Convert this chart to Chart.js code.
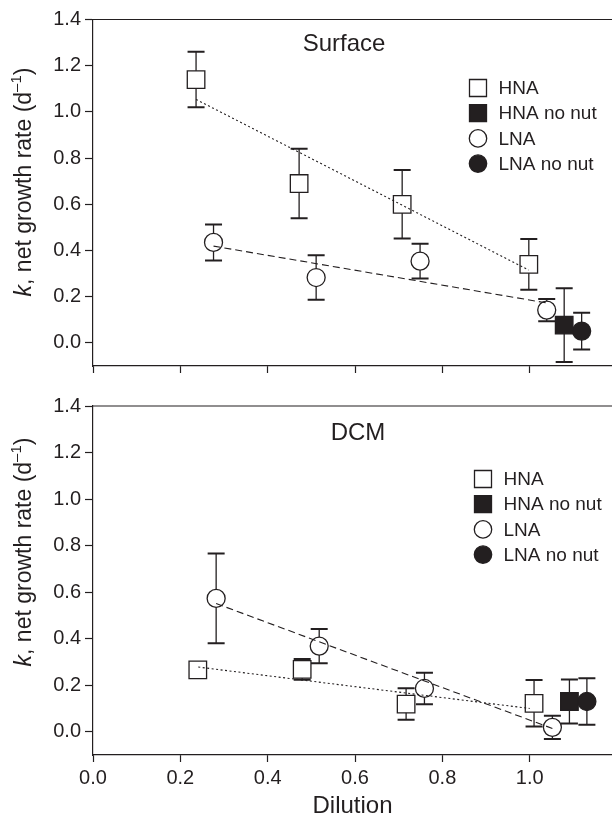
<!DOCTYPE html>
<html>
<head>
<meta charset="utf-8">
<script src="https://cdn.jsdelivr.net/npm/chart.js@4.4.0/dist/chart.umd.min.js"></script>
<style>
html, body { margin: 0; padding: 0; background: #fff; }
#wrap { position: relative; width: 612px; height: 818px; overflow: hidden; }
.panel { position: absolute; left: 0; width: 612px; }
#top-panel { top: 0; height: 386px; }
#bottom-panel { top: 390px; height: 428px; }
</style>
</head>
<body>
<div id="wrap">
  <div class="panel" id="top-panel"><canvas id="surface-chart" width="612" height="386"></canvas></div>
  <div class="panel" id="bottom-panel"><canvas id="dcm-chart" width="612" height="428"></canvas></div>
</div>
<script>
/**
 * Net growth rate vs dilution - Surface and DCM panels
 */

// axis ticks
var xTicks = [0.0, 0.2, 0.4, 0.6, 0.8, 1.0];
var yTicks = [0.0, 0.2, 0.4, 0.6, 0.8, 1.0, 1.2, 1.4];

// Surface
var surfHnaX = [0.236, 0.472, 0.708, 0.998];
var surfHnaY = [1.14, 0.69, 0.60, 0.34];
var surfHnaErr = [0.12, 0.15, 0.148, 0.11];
var surfHnaNoNutX = [1.079];
var surfHnaNoNutY = [0.077];
var surfHnaNoNutErr = [0.16];
var surfLnaX = [0.276, 0.511, 0.749, 1.039];
var surfLnaY = [0.435, 0.283, 0.354, 0.142];
var surfLnaErr = [0.078, 0.096, 0.075, 0.048];
var surfLnaNoNutX = [1.119];
var surfLnaNoNutY = [0.051];
var surfLnaNoNutErr = [0.08];
var surfHnaFitX = [0.236, 0.998];
var surfHnaFitY = [1.054, 0.315];
var surfLnaFitX = [0.276, 1.039];
var surfLnaFitY = [0.419, 0.173];

// DCM
var dcmHnaX = [0.240, 0.479, 0.717, 1.010];
var dcmHnaY = [0.266, 0.268, 0.119, 0.122];
var dcmHnaErr = [0.02, 0.045, 0.068, 0.10];
var dcmHnaNoNutX = [1.091];
var dcmHnaNoNutY = [0.13];
var dcmHnaNoNutErr = [0.095];
var dcmLnaX = [0.282, 0.518, 0.759, 1.052];
var dcmLnaY = [0.573, 0.368, 0.186, 0.019];
var dcmLnaErr = [0.193, 0.074, 0.068, 0.05];
var dcmLnaNoNutX = [1.131];
var dcmLnaNoNutY = [0.13];
var dcmLnaNoNutErr = [0.1];
var dcmHnaFitX = [0.241, 1.0];
var dcmHnaFitY = [0.278, 0.10];
var dcmLnaFitX = [0.282, 1.052];
var dcmLnaFitY = [0.551, 0.014];

var legendLabels = ['HNA', 'HNA no nut', 'LNA', 'LNA no nut'];

var INK = '#231f20';
var FONT = '"Liberation Sans", Arial, Helvetica, sans-serif';
var X_MAX = 1.1885;
var CAP = 8.5;

function pts(xs, ys) {
    return xs.map(function(x, i) { return { x: x, y: ys[i] }; });
}

function markerSet(label, xs, ys, errs, style, filled) {
    return {
        label: label,
        type: 'scatter',
        data: pts(xs, ys),
        errors: errs,
        pointStyle: style,
        pointRadius: style === 'rect' ? 12.4 : 9,
        pointBorderWidth: 1.3,
        pointBorderColor: INK,
        pointBackgroundColor: filled ? INK : '#ffffff',
        showLine: false,
        order: 2
    };
}

function fitSet(xs, ys, dash) {
    return {
        type: 'line',
        data: pts(xs, ys),
        borderColor: INK,
        borderWidth: 1.1,
        borderDash: dash,
        pointRadius: 0,
        fill: false,
        order: 0
    };
}

var errorBarPlugin = {
    id: 'errorBars',
    beforeDatasetsDraw: function(chart) {
        var ctx = chart.ctx, xs = chart.scales.x, ys = chart.scales.y;
        ctx.save();
        ctx.strokeStyle = INK;
        chart.data.datasets.forEach(function(ds) {
            if (!ds.errors) return;
            ds.data.forEach(function(p, i) {
                var e = ds.errors[i];
                if (!e) return;
                var px = xs.getPixelForValue(p.x);
                var top = ys.getPixelForValue(p.y + e);
                var bot = ys.getPixelForValue(p.y - e);
                ctx.lineWidth = 1.3;
                ctx.beginPath();
                ctx.moveTo(px, top); ctx.lineTo(px, bot);
                ctx.stroke();
                ctx.lineWidth = 2;
                ctx.beginPath();
                ctx.moveTo(px - CAP, top); ctx.lineTo(px + CAP, top);
                ctx.moveTo(px - CAP, bot); ctx.lineTo(px + CAP, bot);
                ctx.stroke();
            });
        });
        ctx.restore();
    }
};

// frame top line, panel name, y title and legend
var decorPlugin = {
    id: 'decor',
    afterDraw: function(chart) {
        var o = chart.options.plugins.decor;
        var ctx = chart.ctx, area = chart.chartArea;
        ctx.save();

        ctx.strokeStyle = INK;
        ctx.lineWidth = 1.2;
        ctx.beginPath();
        ctx.moveTo(area.left, area.top);
        ctx.lineTo(chart.width, area.top);
        ctx.stroke();

        ctx.fillStyle = INK;
        ctx.textBaseline = 'middle';
        ctx.textAlign = 'center';
        ctx.font = '24px ' + FONT;
        ctx.fillText(o.title, o.titleX, o.titleY);

        // rotated y title with italic k and superscript
        ctx.save();
        ctx.translate(25, o.yTitleY);
        ctx.rotate(-Math.PI / 2);
        ctx.textAlign = 'left';
        var parts = [
            { t: 'k', f: 'italic 23px ' + FONT, dy: 0 },
            { t: ', net growth rate (d', f: '23px ' + FONT, dy: 0 },
            { t: '\u20131', f: '15px ' + FONT, dy: -8 },
            { t: ')', f: '23px ' + FONT, dy: 0 }
        ];
        var total = 0;
        parts.forEach(function(p) { ctx.font = p.f; p.w = ctx.measureText(p.t).width; total += p.w; });
        var cx = -total / 2;
        parts.forEach(function(p) {
            ctx.font = p.f;
            ctx.fillText(p.t, cx, p.dy);
            cx += p.w;
        });
        ctx.restore();

        // legend
        ctx.textAlign = 'left';
        ctx.font = '19px ' + FONT;
        ctx.lineWidth = 1.3;
        var styles = [['rect', false], ['rect', true], ['circle', false], ['circle', true]];
        legendLabels.forEach(function(label, i) {
            var y = o.legendY + i * 25.2;
            var x = o.legendX;
            ctx.beginPath();
            if (styles[i][0] === 'rect') {
                ctx.rect(x - 8.5, y - 8.5, 17, 17);
            } else {
                ctx.arc(x, y, 8.7, 0, Math.PI * 2);
            }
            ctx.fillStyle = styles[i][1] ? INK : '#ffffff';
            ctx.fill();
            ctx.stroke();
            ctx.fillStyle = INK;
            ctx.fillText(label, x + 20.5, y + 1);
        });
        ctx.restore();
    }
};

function buildScales(showX, xHeight) {
    return {
        x: {
            type: 'linear',
            min: 0,
            max: X_MAX,
            afterBuildTicks: function(s) { s.ticks = xTicks.map(function(v) { return { value: v }; }); },
            afterFit: function(s) { s.height = xHeight; },
            ticks: {
                display: showX,
                color: INK,
                padding: 4,
                font: { family: FONT, size: 20 },
                callback: function(v) { return Number(v).toFixed(1); }
            },
            grid: { display: true, drawOnChartArea: false, drawTicks: true, tickLength: 7, tickColor: INK, tickWidth: 1.2 },
            border: { display: true, color: INK, width: 1.2 },
            title: {
                display: showX,
                text: 'Dilution',
                color: INK,
                font: { family: FONT, size: 24, lineHeight: 1 },
                padding: { top: 0, bottom: 0 }
            }
        },
        y: {
            type: 'linear',
            min: -0.1,
            max: 1.4,
            afterBuildTicks: function(s) { s.ticks = yTicks.map(function(v) { return { value: v }; }); },
            afterFit: function(s) { s.width = 93; },
            ticks: {
                color: INK,
                padding: 4,
                font: { family: FONT, size: 20 },
                callback: function(v) { return Number(v).toFixed(1); }
            },
            grid: { display: true, drawOnChartArea: false, drawTicks: true, tickLength: 8, tickColor: INK, tickWidth: 1.2 },
            border: { display: true, color: INK, width: 1.2 }
        }
    };
}

function makeChart(canvasId, sets, padTop, showX, xHeight, decor) {
    return new Chart(document.getElementById(canvasId).getContext('2d'), {
        type: 'scatter',
        data: { datasets: sets },
        options: {
            responsive: false,
            animation: false,
            clip: false,
            layout: { autoPadding: false, padding: { top: padTop, left: 0, right: 0, bottom: 0 } },
            plugins: { legend: { display: false }, tooltip: { enabled: false }, decor: decor },
            scales: buildScales(showX, xHeight)
        },
        plugins: [errorBarPlugin, decorPlugin]
    });
}

makeChart('surface-chart', [
    fitSet(surfHnaFitX, surfHnaFitY, [2, 2.5]),
    fitSet(surfLnaFitX, surfLnaFitY, [7, 4]),
    markerSet('HNA', surfHnaX, surfHnaY, surfHnaErr, 'rect', false),
    markerSet('HNA no nut', surfHnaNoNutX, surfHnaNoNutY, surfHnaNoNutErr, 'rect', true),
    markerSet('LNA', surfLnaX, surfLnaY, surfLnaErr, 'circle', false),
    markerSet('LNA no nut', surfLnaNoNutX, surfLnaNoNutY, surfLnaNoNutErr, 'circle', true)
], 19.5, false, 20, { title: 'Surface', titleX: 344, titleY: 44, yTitleY: 182, legendX: 478, legendY: 88 });

makeChart('dcm-chart', [
    fitSet(dcmHnaFitX, dcmHnaFitY, [2, 2.5]),
    fitSet(dcmLnaFitX, dcmLnaFitY, [7, 4]),
    markerSet('HNA', dcmHnaX, dcmHnaY, dcmHnaErr, 'rect', false),
    markerSet('HNA no nut', dcmHnaNoNutX, dcmHnaNoNutY, dcmHnaNoNutErr, 'rect', true),
    markerSet('LNA', dcmLnaX, dcmLnaY, dcmLnaErr, 'circle', false),
    markerSet('LNA no nut', dcmLnaNoNutX, dcmLnaNoNutY, dcmLnaNoNutErr, 'circle', true)
], 15.7, true, 63, { title: 'DCM', titleX: 358, titleY: 43.5, yTitleY: 162, legendX: 483, legendY: 89 });
</script>
</body>
</html>
